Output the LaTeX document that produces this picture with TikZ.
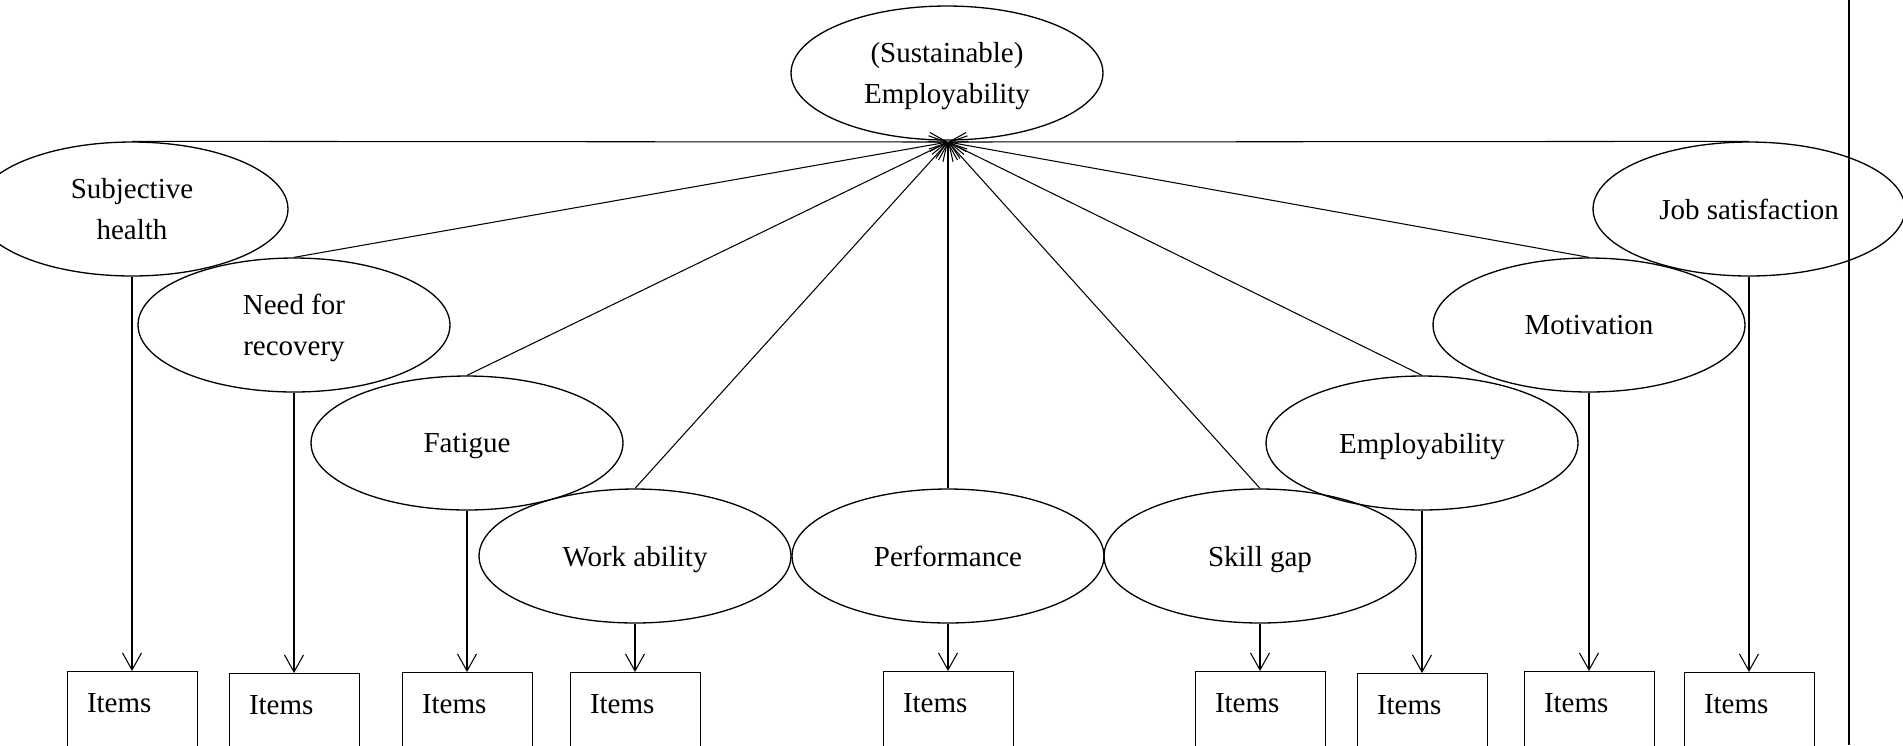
\documentclass[tikz,border=0pt]{standalone}
\usepackage{fontspec}
\setmainfont{Liberation Serif}
\usetikzlibrary{shapes.geometric}
\usetikzlibrary{arrows.meta}

\begin{document}
\begin{tikzpicture}[x=0.02cm, y=-0.02cm, >={Straight Barb[length=3.4mm,width=3.8mm]},
  every node/.style={font=\fontsize{16.5}{23.5}\selectfont},
  latent/.style={draw, ellipse, line width=0.75pt, minimum width=6.24cm, minimum height=2.68cm, inner sep=0pt, text depth=0pt, align=center},
  itembox/.style={draw, anchor=north, line width=0.5pt, inner xsep=0.4cm, inner ysep=0pt, text width=1.8cm, text height=0.82cm, text depth=0.9cm, align=left},
  every edge/.style={draw, line width=0.6pt}]
  \useasboundingbox (0, 0) rectangle (1903, 745);

  \node[latent] at (947, 73) (se) {(Sustainable)\\Employability};
  \coordinate (hub) at (948, 142);

  \node[latent] at (132, 209)  (sh) {Subjective\\health};
  \node[latent] at (294, 325)  (nr) {Need for\\recovery};
  \node[latent] at (467, 443)  (fa) {Fatigue};
  \node[latent] at (635, 556)  (wa) {Work ability};
  \node[latent] at (948, 556)  (pe) {Performance};
  \node[latent] at (1260, 556) (sg) {Skill gap};
  \node[latent] at (1422, 443) (em) {Employability};
  \node[latent] at (1589, 325) (mo) {Motivation};
  \node[latent] at (1749, 209) (js) {Job satisfaction};

  \node[itembox] at (132, 671)  (i1) {Items};
  \node[itembox] at (294, 673)  (i2) {Items};
  \node[itembox] at (467, 672)  (i3) {Items};
  \node[itembox] at (635, 672)  (i4) {Items};
  \node[itembox] at (948, 671)  (i5) {Items};
  \node[itembox] at (1260, 671) (i6) {Items};
  \node[itembox] at (1422, 673) (i7) {Items};
  \node[itembox] at (1589, 671) (i8) {Items};
  \node[itembox] at (1749, 672) (i9) {Items};

  \draw (sh.north) edge[->] (hub);
  \draw (nr.north) edge[->] (hub);
  \draw (fa.north) edge[->] (hub);
  \draw (wa.north) edge[->] (hub);
  \draw (pe.north) edge[->] (hub);
  \draw (sg.north) edge[->] (hub);
  \draw (em.north) edge[->] (hub);
  \draw (mo.north) edge[->] (hub);
  \draw (js.north) edge[->] (hub);

  \draw (sh) edge[->] (i1);
  \draw (nr) edge[->] (i2);
  \draw (fa) edge[->] (i3);
  \draw (wa) edge[->] (i4);
  \draw (pe) edge[->] (i5);
  \draw (sg) edge[->] (i6);
  \draw (em) edge[->] (i7);
  \draw (mo) edge[->] (i8);
  \draw (js) edge[->] (i9);

  \draw[line width=0.75pt] (1849, 0) -- (1849, 745);
\end{tikzpicture}
\end{document}
